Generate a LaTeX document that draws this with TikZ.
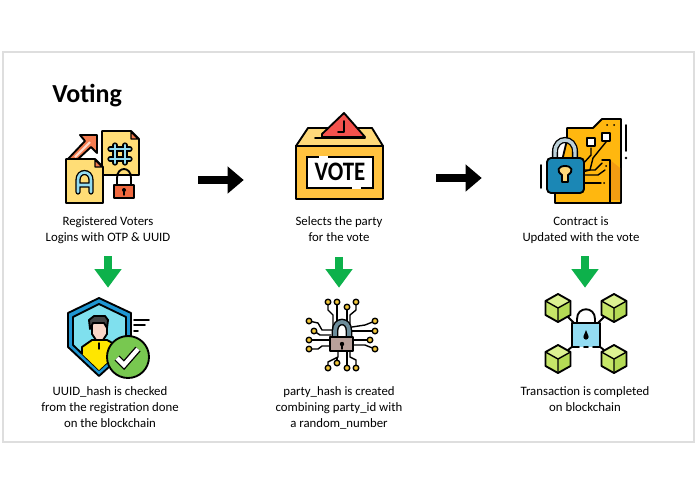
\documentclass[tikz,border=0pt]{standalone}
\usepackage{fontspec}
\setmainfont{Carlito}
\usetikzlibrary{arrows.meta, positioning}
\definecolor{docyellow}{HTML}{FFDD76}
\definecolor{arrorange}{HTML}{F47B4F}
\definecolor{lockred}{HTML}{F0693F}
\definecolor{iceblue}{HTML}{93DCF2}
\definecolor{boxgold}{HTML}{FFC240}
\definecolor{lidgold}{HTML}{FFD97A}
\definecolor{ballotred}{HTML}{F4524D}
\definecolor{chipgold}{HTML}{FFB70F}
\definecolor{chipdark}{HTML}{F39C12}
\definecolor{lockblue}{HTML}{1B87B5}
\definecolor{steelgrey}{HTML}{BCD0D8}
\definecolor{shieldblue}{HTML}{1E96D2}
\definecolor{shieldsky}{HTML}{7FE0EE}
\definecolor{shirtyellow}{HTML}{FFE600}
\definecolor{facepink}{HTML}{FAD7C8}
\definecolor{hairgrey}{HTML}{444444}
\definecolor{badgegreen}{HTML}{78C850}
\definecolor{padyellow}{HTML}{F2C83C}
\definecolor{taupe}{HTML}{B8A09A}
\definecolor{slate}{HTML}{6C8C9A}
\definecolor{cubetop}{HTML}{DCF291}
\definecolor{cubeleft}{HTML}{C6E668}
\definecolor{cuberight}{HTML}{B4DA55}
\definecolor{stepgreen}{HTML}{0DB14B}
\definecolor{framegrey}{HTML}{DEDEDE}

\begin{document}
\begin{tikzpicture}[
  x=.75pt, y=-.75pt,
  ink/.style={draw=black, line width=1.4pt, line join=round, line cap=round},
  thinink/.style={draw=black, line width=1.05pt, line join=round, line cap=round},
  glyphout/.style={draw=black, line width=3.9pt, line cap=round},
  glyphin/.style={draw=iceblue, line width=1.9pt, line cap=round},
  iconbox/.style={minimum width=75pt, minimum height=63pt, inner sep=0pt},
  caption/.style={align=center, inner sep=0pt, font=\fontsize{9.6}{12}\selectfont},
  nextarrow/.style={-{Triangle[length=12pt, width=19.5pt]}, line width=5.6pt, black},
  stepdown/.style={-{Triangle[length=14pt, width=19.5pt]}, line width=6pt, stepgreen}
]
  \useasboundingbox (0,0) rectangle (695,494);
  \draw[framegrey, line width=1.4pt] (3,52) rectangle (694,442);
  \node[anchor=west, inner sep=0pt, font=\fontsize{19.5}{22}\selectfont\bfseries] (title) at (52,96) {Voting};

  \node[iconbox] (regicon) at (108,167) {};
  \node[iconbox] (voteicon) at (339,167) {};
  \node[iconbox] (contracticon) at (581,167) {};
  \node[iconbox] (shieldicon) at (108,337) {};
  \node[iconbox] (lockicon) at (339,337) {};
  \node[iconbox] (txicon) at (585,337) {};

  \node[caption, below=5.5pt of regicon] (regcap) {Registered Voters\\Logins with OTP \& UUID};
  \node[caption, below=5.5pt of voteicon] (votecap) {Selects the party\\for the vote};
  \node[caption, below=5.5pt of contracticon] (contractcap) {Contract is\\Updated with the vote};
  \node[caption, below=5pt of shieldicon, xshift=1.5pt] (shieldcap) {UUID\_hash is checked\\from the registration done\\on the blockchain};
  \node[caption, below=5pt of lockicon] (lockcap) {party\_hash is created\\combining party\_id with\\a random\_number};
  \node[caption, below=5pt of txicon] (txcap) {Transaction is completed\\on blockchain};

  \draw[nextarrow, shorten <=30pt, shorten >=33.75pt] ([yshift=-9.75pt]regicon.east) -- ([yshift=-9.75pt]voteicon.west);
  \draw[nextarrow, shorten <=35.25pt, shorten >=36.75pt] ([yshift=-8.25pt]voteicon.east) -- ([yshift=-8.25pt]contracticon.west);
  \draw[stepdown, shorten <=9pt, shorten >=5.25pt] (regcap.south -| shieldicon.north) -- (shieldicon.north);
  \draw[stepdown, shorten <=11pt, shorten >=5.25pt] (votecap.south -| lockicon.north) -- (lockicon.north);
  \draw[stepdown, shorten <=9pt, shorten >=5.25pt] (contractcap.south -| txicon.north) -- (txicon.north);

  \draw[ink, fill=docyellow] (102,131) -- (131,131) -- (139,139) -- (139,175) -- (102,175) -- cycle;
  \draw[thinink, fill=arrorange] (131,132) -- (131,139) -- (138,139) -- cycle;
  \foreach \gstyle in {glyphout, glyphin} {
    \draw[\gstyle] (115,145) -- (115,163) (125,145) -- (125,163) (110,149) -- (130,149) (110,159) -- (130,159);
  }
  \draw[ink, fill=arrorange] (97,135) -- (97,153) -- (91,147) -- (78,159) -- (68,159) -- (85,141) -- (80,135) -- cycle;
  \draw[line width=1.6pt, white!70!arrorange] (75,157) -- (90,142);
  \draw[ink, fill=docyellow] (66,159) -- (95,159) -- (103,167) -- (103,203) -- (66,203) -- cycle;
  \draw[thinink, fill=arrorange] (95,160) -- (95,167) -- (102,167) -- cycle;
  \foreach \gstyle in {glyphout, glyphin} {
    \draw[\gstyle] (78,192) -- (78,180) .. controls (78,170) and (91,170) .. (91,180) -- (91,192) (78,185) -- (91,185);
  }
  \draw[ink] (117,186) -- (117,178) .. controls (117,166) and (131,166) .. (131,178) -- (131,186);
  \draw[ink, fill=lockred] (114,185) rectangle (134,198);
  \fill (124,190) circle (2);
  \draw[thinink] (124,190) -- (124,195);

  \draw[ink, fill=lidgold] (296,146) -- (308,128) -- (372,128) -- (383,146) -- cycle;
  \draw[ink, fill=ballotred] (322,134) -- (344,113) -- (365,137) -- (322,137) -- cycle;
  \draw[ink] (344,121) -- (344,132) -- (338,132);
  \draw[ink] (315,138) -- (365,138);
  \draw[ink, fill=boxgold] (296,146) rectangle (383,199);
  \draw[line width=1.9pt, fill=white] (307,157) rectangle (373,188);
  \draw[white, line width=2.2pt] (319,157) -- (328,157) (352,188) -- (361,188);
  \node[inner sep=0pt, xscale=.86, font=\fontsize{20}{20}\selectfont\bfseries] (votetext) at (340,172) {VOTE};

  \draw[ink] (626,125) -- (626,151);
  \fill (626,158) circle (1.4);
  \draw[ink] (541,165) -- (541,188);
  \draw[ink, fill=chipgold] (567,140) -- (567,128) -- (593,128) -- (602,119) -- (621,119) -- (621,203) -- (555,203) -- (555,190) -- cycle;
  \fill[chipdark] (600,160) -- (610,160) -- (610,200) -- (620,200) -- (620,168) -- (610,160) -- cycle;
  \draw[thinink] (602,160) -- (610,160) -- (610,203);
  \draw[thinink] (591,148) -- (591,155) -- (582,165);
  \draw[thinink] (606,142) -- (593,158) -- (590,170) -- (582,172);
  \draw[thinink] (583,170) -- (595,170) -- (602,163);
  \draw[thinink] (583,175) -- (598,175) -- (605,170);
  \draw[thinink] (583,183) -- (601,183);
  \fill (604,183) circle (1) (606,166) circle (1) (607,125) circle (1) (614,125) circle (1);
  \draw[thinink, fill=white] (587,138) rectangle (595,146);
  \draw[thinink, fill=white] (602,133) rectangle (610,141);
  \draw[line width=4.6pt, black] (555,160) -- (555,152) .. controls (555,136) and (575,136) .. (575,152) -- (575,160);
  \draw[line width=2.6pt, steelgrey] (555,160) -- (555,152) .. controls (555,136) and (575,136) .. (575,152) -- (575,160);
  \draw[ink, fill=lockblue, rounded corners=3pt] (547,158) rectangle (584,193);
  \draw[ink, fill=lidgold] (562,182) -- (562,175) .. controls (556,171) and (558,166) .. (565,166) .. controls (572,166) and (574,171) .. (568,175) -- (568,182) -- cycle;

  \draw[ink, fill=shieldblue] (99,298) -- (131,313) -- (131,347) -- (99,376) -- (68,347) -- (68,313) -- cycle;
  \draw[ink, fill=shieldsky] (99,304) -- (126,317) -- (126,345) -- (99,370) -- (73,345) -- (73,317) -- cycle;
  \begin{scope}
    \clip (99,304) -- (126,317) -- (126,345) -- (99,370) -- (73,345) -- (73,317) -- cycle;
    \draw[ink, fill=shirtyellow] (82,372) -- (82,347) -- (92,340) -- (107,340) -- (118,346) -- (122,372) -- cycle;
  \end{scope}
  \draw[thinink] (99,343) -- (99,349);
  \draw[ink, fill=facepink] (92,322) -- (92,334) -- (96,340) -- (103,340) -- (107,334) -- (107,322) -- cycle;
  \draw[ink, fill=hairgrey] (90,329) -- (89,320) -- (94,316) -- (105,316) -- (108,320) -- (107,328) -- (104,323) -- (93,323) -- cycle;
  \draw[ink] (134,320) -- (149,320);
  \draw[ink] (134,325) -- (145,325);
  \draw[ink] (134,331) -- (138,331);
  \draw[ink, fill=badgegreen] (128,357) circle (21);
  \draw[draw=black, line width=1pt, double=white, double distance=3.2pt, line join=miter] (117,358) -- (124,365) -- (138,349);

  \foreach \route in {
    {(328,302) -- (328,310) -- (333,315) -- (333,327)},
    {(337,302) -- (337,322)},
    {(347,307) -- (347,322)},
    {(356,302) -- (356,310) -- (350,315) -- (350,327)},
    {(309,321) -- (318,323) -- (322,330) -- (332,330)},
    {(314,331) -- (320,335) -- (331,335)},
    {(309,340) -- (330,340)},
    {(309,349) -- (318,349) -- (322,346) -- (330,346)},
    {(375,321) -- (365,325) -- (352,327)},
    {(375,331) -- (352,331)},
    {(370,340) -- (353,340)},
    {(375,349) -- (365,345) -- (353,345)},
    {(328,368) -- (328,362) -- (338,357) -- (338,351)},
    {(337,363) -- (337,358)},
    {(347,368) -- (347,351)},
    {(356,368) -- (356,360) -- (350,357) -- (350,351)}
  } {
    \draw[thinink] \route;
  }
  \draw[line width=5pt, black] (335,338) -- (335,331) .. controls (335,319) and (349,319) .. (349,331) -- (349,338);
  \draw[line width=2.8pt, slate] (335,338) -- (335,331) .. controls (335,319) and (349,319) .. (349,331) -- (349,338);
  \draw[ink, fill=taupe] (330,337) rectangle (353,351);
  \fill (342,344) circle (2.2);
  \draw[thinink] (342,344) -- (342,349);
  \foreach \px/\py in {328/302, 337/302, 347/307, 356/302, 309/321, 314/331, 309/340, 309/349, 375/321, 375/331, 370/340, 375/349, 328/368, 337/363, 347/368, 356/368} {
    \draw[thinink, fill=padyellow] (\px,\py) circle (2.8);
  }

  \draw[ink] (568,317) -- (575,324);
  \draw[ink] (604,317) -- (597,324);
  \draw[ink] (568,350) -- (573,346);
  \draw[ink] (604,350) -- (599,346);
  \foreach \cx/\cy in {558/308, 614/308, 558/359, 614/359} {
    \begin{scope}[shift={(\cx,\cy)}]
      \fill[cubetop] (0,-14) -- (12.5,-7) -- (0,0) -- (-12.5,-7) -- cycle;
      \fill[cubeleft] (-12.5,-7) -- (0,0) -- (0,14) -- (-12.5,7) -- cycle;
      \fill[cuberight] (12.5,-7) -- (0,0) -- (0,14) -- (12.5,7) -- cycle;
      \draw[ink] (0,-14) -- (12.5,-7) -- (12.5,7) -- (0,14) -- (-12.5,7) -- (-12.5,-7) -- cycle;
      \draw[thinink] (-12.5,-7) -- (0,0) -- (12.5,-7) (0,0) -- (0,14);
    \end{scope}
  }
  \draw[ink] (577,323) -- (577,319) .. controls (577,306) and (595,306) .. (595,319) -- (595,323);
  \fill[iceblue] (572,323) rectangle (600,347);
  \draw[ink] (572,347) -- (572,323) -- (600,323) -- (600,347);
  \draw[ink] (572,347) -- (579,347) (584,347) -- (588,347) (593,347) -- (600,347);
  \fill (586,337) circle (2.6);
  \fill (586,330) -- (583.6,336) -- (588.4,336) -- cycle;
\end{tikzpicture}
\end{document}
